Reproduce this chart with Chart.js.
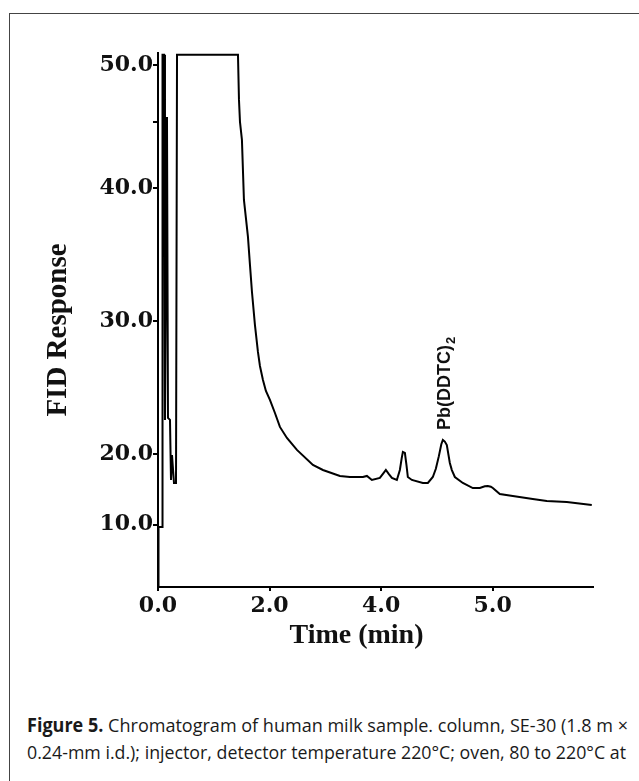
<!DOCTYPE html>
<html>
<head>
<meta charset="utf-8">
<script src="https://cdn.jsdelivr.net/npm/chart.js@4.4.1/dist/chart.umd.min.js"></script>
<style>
  html, body { margin: 0; padding: 0; background: #fff; width: 639px; height: 781px; overflow: hidden; }
  #frame { position: absolute; left: 9px; top: 13px; width: 720px; height: 820px; border: 1.5px solid #444; box-sizing: border-box; }
  #wrap { position: absolute; left: 0; top: 0; width: 639px; height: 660px; }
  #caption { position: absolute; left: 27px; top: 712px; font-family: "Open Sans", "Liberation Sans Narrow", sans-serif; font-size: 19px; line-height: 27px; color: #1a1a1a; }
  #caption .ln { display: block; white-space: nowrap; transform-origin: 0 50%; width: max-content; }
  #caption b { font-weight: bold; }
</style>
</head>
<body>
<div id="frame"></div>
<div id="wrap"><canvas id="c" width="639" height="660"></canvas></div>
<div id="caption">
  <span class="ln" id="l1"><b>Figure 5.</b> Chromatogram of human milk sample. column, SE-30 (1.8 m ×</span>
  <span class="ln" id="l2">0.24-mm i.d.); injector, detector temperature 220°C; oven, 80 to 220°C at</span>
</div>
<script>
// ---- data ----
const timeMin = [
  0.009, 0.009, 0.072, 0.081, 0.108, 0.125, 0.161, 0.179, 0.215, 0.233, 0.251, 0.287, 0.323, 0.341,
  1.434, 1.452, 1.470, 1.505, 1.541, 1.613, 1.649, 1.685, 1.738, 1.792, 1.828, 1.882, 1.935, 2.007,
  2.097, 2.186, 2.312, 2.491, 2.778, 2.957, 3.262, 3.441, 3.674, 3.746, 3.835, 3.978, 4.040, 4.086,
  4.140, 4.194, 4.283, 4.337, 4.370, 4.391, 4.427, 4.455, 4.480, 4.552, 4.749, 4.839, 4.928, 4.982,
  5.036, 5.080, 5.108, 5.143, 5.179, 5.233, 5.269, 5.323, 5.466, 5.645, 5.771, 5.860, 5.914, 5.968,
  6.004, 6.129, 6.362, 6.720, 6.971, 7.330, 7.778
];
const fidResponse = [
  10.00, 14.52, 14.52, 50.06, 50.06, 22.58, 45.39, 22.73, 22.58, 18.06, 19.94, 17.83, 17.83, 50.06,
  50.06, 46.67, 45.02, 43.66, 39.14, 36.36, 34.25, 32.21, 29.73, 27.70, 26.64, 25.59, 24.76, 24.08,
  23.10, 22.05, 21.22, 20.32, 19.19, 18.81, 18.36, 18.28, 18.28, 18.36, 18.06, 18.21, 18.55, 18.81,
  18.50, 18.21, 18.06, 18.81, 19.70, 20.17, 20.09, 19.20, 18.28, 18.06, 17.83, 17.83, 18.28, 18.90,
  19.85, 20.75, 21.07, 20.95, 20.69, 19.34, 18.80, 18.28, 17.83, 17.45, 17.45, 17.58, 17.61, 17.55,
  17.45, 17.00, 16.85, 16.63, 16.48, 16.40, 16.17
];
const xTickValues = [0, 2, 4, 6];
const xTickLabels = ['0.0', '2.0', '4.0', '5.0'];
const yTickValues = [14.7, 20, 30, 40, 45, 49.3];
const yTickLabels = ['10.0', '20.0', '30.0', '40.0', '', '50.0'];
const peakLabel = 'Pb(DDTC)';
const peakLabelSub = '2';
const peakTime = 5.108;
const peakValue = 21.07;
const xTitle = 'Time (min)';
const yTitle = 'FID Response';

const points = timeMin.map((t, i) => ({ x: t, y: fidResponse[i] }));

const textPlugin = {
  id: 'texts',
  afterDraw(chart) {
    const ctx = chart.ctx;
    const a = chart.chartArea;
    const xs = chart.scales.x, ys = chart.scales.y;
    ctx.save();
    ctx.fillStyle = '#111';
    // y title
    ctx.font = 'bold 29px "Liberation Serif", "Times New Roman", serif';
    ctx.save();
    ctx.translate(a.left - 92, (a.top + a.bottom) / 2 + 10);
    ctx.rotate(-Math.PI / 2);
    ctx.textAlign = 'center';
    ctx.textBaseline = 'alphabetic';
    ctx.fillText(yTitle, 0, 0);
    ctx.restore();
    // x title
    ctx.font = 'bold 28px "Liberation Serif", "Times New Roman", serif';
    ctx.textAlign = 'center';
    ctx.textBaseline = 'alphabetic';
    ctx.fillText(xTitle, (a.left + a.right) / 2 - 19, a.bottom + 56);
    // peak annotation
    const px = xs.getPixelForValue(peakTime) + 7;
    const py = ys.getPixelForValue(peakValue) - 10;
    ctx.save();
    ctx.translate(px, py);
    ctx.rotate(-Math.PI / 2);
    ctx.textAlign = 'left';
    ctx.textBaseline = 'alphabetic';
    ctx.font = 'bold 18px "Liberation Sans", Arial, sans-serif';
    ctx.fillText(peakLabel, 0, 0);
    const w = ctx.measureText(peakLabel).width;
    ctx.font = 'bold 13px "Liberation Sans", Arial, sans-serif';
    ctx.fillText(peakLabelSub, w + 1, 5);
    ctx.restore();
    ctx.restore();
  }
};

new Chart(document.getElementById('c'), {
  type: 'line',
  data: {
    datasets: [{
      data: points,
      borderColor: '#000',
      borderWidth: 2,
      pointRadius: 0,
      tension: 0,
      fill: false
    }]
  },
  options: {
    responsive: false,
    animation: false,
    devicePixelRatio: 1,
    layout: { padding: { left: 88, top: 53, right: 46, bottom: 0 } },
    plugins: { legend: { display: false }, tooltip: { enabled: false } },
    scales: {
      x: {
        type: 'linear',
        min: 0,
        max: 7.8,
        afterBuildTicks(s) { s.ticks = xTickValues.map(v => ({ value: v })); },
        afterFit(s) { s.height = 73; },
        ticks: {
          autoSkip: false,
          maxRotation: 0,
          padding: 2,
          color: '#111',
          font: { family: '"DejaVu Serif", serif', weight: 'bold', size: 22 },
          callback: (v, i) => xTickLabels[i]
        },
        grid: { drawOnChartArea: false, tickLength: 4, color: '#000', lineWidth: 2 },
        border: { display: true, color: '#000', width: 2 }
      },
      y: {
        type: 'linear',
        min: 10,
        max: 50.2,
        afterBuildTicks(s) { s.ticks = yTickValues.map(v => ({ value: v })); },
        afterFit(s) { s.width = 70; },
        ticks: {
          autoSkip: false,
          padding: 0,
          color: '#111',
          font: { family: '"DejaVu Serif", serif', weight: 'bold', size: 22 },
          callback: (v, i) => yTickLabels[i]
        },
        grid: { drawOnChartArea: false, tickLength: 5, color: '#000', lineWidth: 2 },
        border: { display: true, color: '#000', width: 2 }
      }
    }
  },
  plugins: [textPlugin]
});

// fit caption lines to the reference widths
function fitLine(id, target) {
  const el = document.getElementById(id);
  el.style.transform = 'none';
  const w = el.getBoundingClientRect().width;
  if (w > 0) el.style.transform = 'scaleX(' + (target / w) + ')';
}
fitLine('l1', 601);
fitLine('l2', 599);
</script>
</body>
</html>
